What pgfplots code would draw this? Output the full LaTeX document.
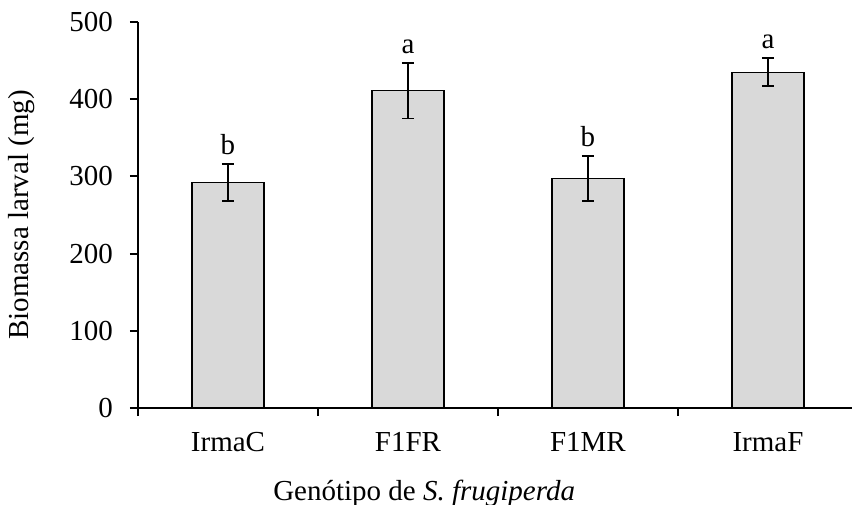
\documentclass[border=0pt]{standalone}
\usepackage{fontspec}
\setmainfont{Liberation Serif}
\usepackage{pgfplots}
\pgfplotsset{compat=1.18}
\definecolor{barfill}{HTML}{D9D9D9}
\begin{document}
\begin{tikzpicture}[font=\fontsize{14.5}{17}\selectfont]
\begin{axis}[
  at={(0,0)}, anchor=origin,
  scale only axis, width=357pt, height=193pt,
  xmin=-0.5, xmax=3.467, ymin=0, ymax=500,
  axis x line=bottom, axis y line=left,
  axis line style={line width=1pt, -},
  xtick={-0.5,0.5,1.5,2.5}, xticklabels={},
  extra x ticks={0,1,2,3},
  extra x tick labels={IrmaC,F1FR,F1MR,IrmaF},
  extra x tick style={major tick length=0pt, xticklabel style={yshift=-8.5pt}},
  ytick={0,100,...,500},
  tick style={line width=1pt, black},
  major tick length=4pt,
  tick align=outside,
  /pgf/number format/assume math mode=true,
  yticklabel style={xshift=-5pt},
  ylabel={Biomassa larval (mg)},
  ylabel style={at={(axis description cs:-0.163,0.5)}, anchor=center},
  xlabel={Genótipo de \textit{S. frugiperda}},
  xlabel style={at={(axis cs:1.09,0)}, anchor=center, yshift=-42.5pt},
  clip=false,
]
\addplot[ybar, bar width=0.4, fill=barfill, draw=black, line width=0.6pt,
  error bars/.cd, y dir=both, y explicit,
  error bar style={line width=0.9pt, black},
  error mark options={rotate=90, mark size=3pt, line width=0.9pt, black}]
  coordinates {
  (0,292) +- (0,24)
  (1,411) +- (0,36)
  (2,297) +- (0,29)
  (3,435) +- (0,18)
  };
\addplot[draw=none, nodes near coords, point meta=explicit symbolic,
  every node near coord/.append style={anchor=south, yshift=1pt}]
  coordinates {
  (0,316) [b]
  (1,447) [a]
  (2,326) [b]
  (3,453) [a]
  };
\coordinate (O) at (axis cs:-0.5,0);
\end{axis}
\pgfresetboundingbox
\path ([shift={(-69pt,-48pt)}]O) rectangle ([shift={(357pt,204pt)}]O);
\end{tikzpicture}
\end{document}
